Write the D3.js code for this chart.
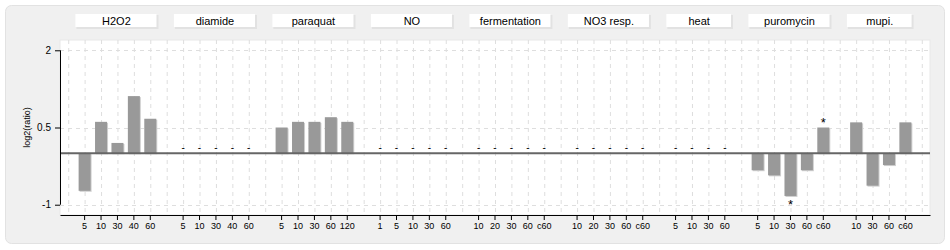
<!DOCTYPE html>
<html>
<head>
<meta charset="utf-8">
<script src="https://cdn.jsdelivr.net/npm/d3@7"></script>
<style>
  body { margin: 0; background: #fff; }
  svg text { font-family: "Liberation Sans", Arial, sans-serif; }
</style>
</head>
<body>
<div id="chart"></div>
<script>
// experiment groups, time points and log2 ratios (null = no value)
let groups = ['H2O2', 'diamide', 'paraquat', 'NO', 'fermentation', 'NO3 resp.', 'heat', 'puromycin', 'mupi.'];

let timeLabels = [
    ['5', '10', '30', '40', '60'],
    ['5', '10', '30', '40', '60'],
    ['5', '10', '30', '60', '120'],
    ['1', '5', '10', '30', '60'],
    ['10', '20', '30', '60', 'c60'],
    ['10', '20', '30', '60', 'c60'],
    ['5', '10', '30', '60'],
    ['5', '10', '30', '60', 'c60'],
    ['10', '30', '60', 'c60']
];

let ratios = [
    [-0.73, 0.61, 0.2, 1.11, 0.67],
    [null, null, null, null, null],
    [0.5, 0.61, 0.61, 0.7, 0.61],
    [null, null, null, null, null],
    [null, null, null, null, null],
    [null, null, null, null, null],
    [null, null, null, null],
    [-0.33, -0.43, -0.83, -0.33, 0.5],
    [0.6, -0.63, -0.23, 0.6]
];

let starred = ['puromycin|30', 'puromycin|c60'];

let yTicks = [2, 0.5, -1];

let width = 950,
    height = 250,
    plot = {left: 60, top: 40, right: 930, bottom: 215};

// slot list: leading gap, each group followed by a gap
let slots = ['lead'];
let points = [];
groups.forEach((g, gi) => {
    timeLabels[gi].forEach((t, ti) => {
        let key = `${g}|${t}`;
        slots.push(key);
        points.push({key: key, group: g, label: t, value: ratios[gi][ti]});
    });
    slots.push(`${g}|gap`);
});

let svg = d3.select('#chart').append('svg')
    .attr('width', width)
    .attr('height', height);

let xScale = d3.scaleBand()
    .domain(slots)
    .range([plot.left, plot.right]);

let yScale = d3.scaleLinear()
    .domain([-1.2, 2.2])
    .range([plot.bottom, plot.top]);

let bw = xScale.bandwidth();
let cx = k => xScale(k) + bw / 2;

// panel
svg.append('rect')
    .attr('x', 5.5).attr('y', 5.5)
    .attr('width', 939).attr('height', 238)
    .attr('rx', 6)
    .attr('fill', '#f0f0f0')
    .attr('stroke', '#e2e2e2');

// plot background
svg.append('rect')
    .attr('x', plot.left).attr('y', plot.top)
    .attr('width', plot.right - plot.left)
    .attr('height', plot.bottom - plot.top)
    .attr('fill', '#fff')
    .attr('stroke', '#e8e8e8');

// group header boxes
let headers = svg.append('g').attr('class', 'headers');
groups.forEach((g, gi) => {
    let first = xScale(`${g}|${timeLabels[gi][0]}`),
        w = timeLabels[gi].length * bw;
    headers.append('rect')
        .attr('x', first).attr('y', 15)
        .attr('width', w).attr('height', 14)
        .attr('fill', '#e2e2e2');
    headers.append('rect')
        .attr('x', first - 1).attr('y', 14)
        .attr('width', w - 1).attr('height', 13)
        .attr('fill', '#fff');
    headers.append('text')
        .attr('x', first + w / 2 - 1)
        .attr('y', 25)
        .attr('text-anchor', 'middle')
        .attr('font-size', 11)
        .attr('fill', '#000')
        .text(g);
});

// grid
let grid = svg.append('g').attr('class', 'grid')
    .attr('stroke', '#dedede')
    .attr('stroke-dasharray', '4,4');

grid.selectAll('line.v')
    .data(slots)
    .join('line')
    .attr('class', 'v')
    .attr('x1', d => cx(d) + 0.5).attr('x2', d => cx(d) + 0.5)
    .attr('y1', plot.top).attr('y2', plot.bottom);

grid.selectAll('line.h')
    .data(yTicks)
    .join('line')
    .attr('class', 'h')
    .attr('x1', plot.left).attr('x2', plot.right)
    .attr('y1', d => Math.round(yScale(d)) + 0.5)
    .attr('y2', d => Math.round(yScale(d)) + 0.5);

// bars
let withValue = points.filter(p => p.value !== null);
let bars = svg.append('g').attr('class', 'bars');
let barW = 12;

bars.selectAll('rect.shadow')
    .data(withValue)
    .join('rect')
    .attr('class', 'shadow')
    .attr('x', d => cx(d.key) - barW / 2 + 1)
    .attr('y', d => Math.min(yScale(d.value), yScale(0)) + 1)
    .attr('width', barW)
    .attr('height', d => Math.abs(yScale(d.value) - yScale(0)))
    .attr('fill', '#d0d0d0');

bars.selectAll('rect.bar')
    .data(withValue)
    .join('rect')
    .attr('class', 'bar')
    .attr('x', d => cx(d.key) - barW / 2)
    .attr('y', d => Math.min(yScale(d.value), yScale(0)))
    .attr('width', barW)
    .attr('height', d => Math.abs(yScale(d.value) - yScale(0)))
    .attr('fill', '#999');

// zero line
svg.append('line')
    .attr('x1', plot.left).attr('x2', plot.right)
    .attr('y1', yScale(0)).attr('y2', yScale(0))
    .attr('stroke', '#666')
    .attr('stroke-width', 2);

// missing value dashes
svg.append('g').selectAll('text')
    .data(points.filter(p => p.value === null))
    .join('text')
    .attr('x', d => cx(d.key))
    .attr('y', yScale(0) - 2)
    .attr('text-anchor', 'middle')
    .attr('font-size', 10)
    .text('-');

// significance asterisks
svg.append('g').selectAll('text')
    .data(points.filter(p => starred.includes(p.key)))
    .join('text')
    .attr('x', d => cx(d.key))
    .attr('y', d => d.value < 0 ? yScale(d.value) + 13 : yScale(d.value) - 1)
    .attr('text-anchor', 'middle')
    .attr('font-size', 13)
    .text('*');

// x axis
let xAxis = svg.append('g')
    .attr('class', 'x-axis')
    .attr('transform', `translate(0, ${plot.bottom})`)
    .call(d3.axisBottom(xScale)
        .tickValues(points.map(p => p.key))
        .tickFormat(k => k.split('|')[1])
        .tickSize(5)
        .tickSizeOuter(0)
        .tickPadding(3));
xAxis.selectAll('text').attr('font-size', 9).attr('font-family', null);

// y axis
let yAxis = svg.append('g')
    .attr('class', 'y-axis')
    .attr('transform', `translate(${plot.left}, 0)`)
    .call(d3.axisLeft(yScale)
        .tickValues(yTicks)
        .tickFormat(d => String(d))
        .tickSize(5)
        .tickPadding(4));
yAxis.select('.domain').remove();
yAxis.selectAll('text').attr('font-size', 10).attr('font-family', null);
yAxis.append('line')
    .attr('x1', 0.5).attr('x2', 0.5)
    .attr('y1', yScale(2)).attr('y2', yScale(-1))
    .attr('stroke', '#000');

svg.append('text')
    .attr('transform', `translate(30, ${(plot.top + plot.bottom) / 2}) rotate(-90)`)
    .attr('text-anchor', 'middle')
    .attr('font-size', 9)
    .text('log2(ratio)');
</script>
</body>
</html>
